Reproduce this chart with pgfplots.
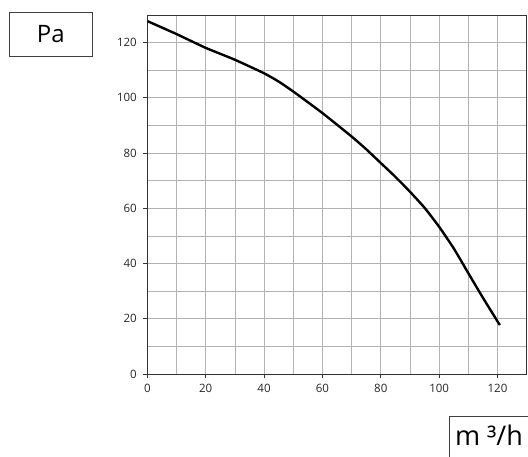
\documentclass[border=0pt]{standalone}
\usepackage{fontspec}
\setmainfont{Open Sans}
\usepackage{pgfplots}
\pgfplotsset{compat=1.18}
\begin{document}
\begin{tikzpicture}
\begin{axis}[
    at={(0pt,0pt)}, anchor=south west,
    scale only axis,
    width=379.4pt, height=359pt,
    xmin=0, xmax=130, ymin=0, ymax=130,
    xtick={0,20,...,120}, ytick={0,20,...,120},
    minor tick num=1,
    grid=both,
    major grid style={gray!60, line width=0.7pt},
    minor grid style={gray!60, line width=0.7pt},
    axis line style={black!80, line width=0.8pt},
    tick align=outside,
    xtick pos=left, ytick pos=left,
    major tick length=4pt, minor tick length=0pt,
    tick style={black!80, line width=0.8pt},
    ticklabel style={font=\fontsize{11.5}{13}\selectfont, text=black!85},
    /pgf/number format/assume math mode=true,
    xticklabel style={yshift=-3pt},
    yticklabel style={xshift=-3pt},
    ]
\addplot [black, line width=2.4pt, smooth, tension=0.3] coordinates {
 (0,127.8) (10,123.1) (20,118.1) (30,113.8) (40,108.9) (45,105.9) (50,102.3)
 (60,94.5) (70,86.0) (75,81.4) (80,76.4) (85,71.4) (90,66.0) (95,60.2)
 (100,53.3) (105,45.5) (110,36.5) (115,27.6) (120.8,17.7)
};
\end{axis}
\draw[black!75, line width=0.8pt] (-138pt,318pt) rectangle (-55pt,361.7pt);
\node[anchor=base, font=\fontsize{24}{28}\selectfont] at (-96.5pt,331.7pt) {Pa};
\draw[black!75, line width=0.8pt] (301.7pt,-100pt) rectangle (400pt,-42.7pt);
\node[anchor=base, font=\fontsize{27}{30}\selectfont] at (341.7pt,-71.7pt) {m ³/h};
\pgfresetboundingbox
\path[use as bounding box] (-147.3pt,-83pt) rectangle (380.7pt,374pt);
\end{tikzpicture}
\end{document}
